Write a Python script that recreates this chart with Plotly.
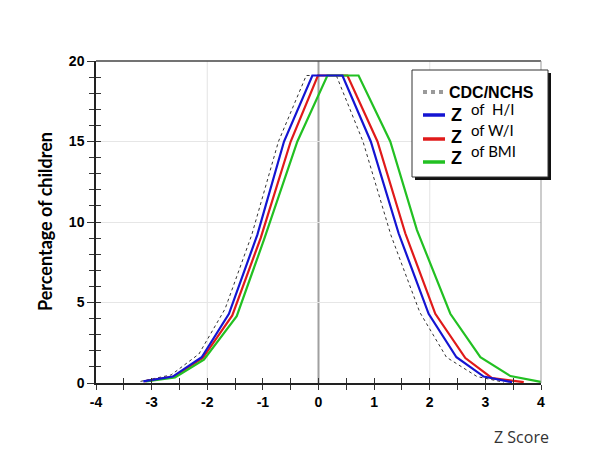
import plotly.graph_objects as go

# ---------------- data ----------------
cdc_x = [-3.2, -2.65, -2.15, -1.68, -1.2, -0.72, -0.22, 0.32, 0.8, 1.3, 1.82, 2.3, 2.85, 3.33]
cdc_y = [0.1, 0.5, 1.8, 4.6, 9.2, 15.0, 19.1, 19.1, 15.0, 9.2, 4.4, 1.6, 0.4, 0.05]

hi_x = [-3.15, -2.62, -2.1, -1.61, -1.1, -0.62, -0.11, 0.43, 0.94, 1.44, 1.98, 2.48, 2.97, 3.48]
hi_y = [0.1, 0.4, 1.6, 4.3, 9.2, 15.0, 19.1, 19.1, 15.0, 9.3, 4.3, 1.6, 0.4, 0.05]

wi_x = [-3.13, -2.6, -2.08, -1.55, -1.04, -0.5, -0.01, 0.52, 1.06, 1.56, 2.1, 2.64, 3.12, 3.69]
wi_y = [0.1, 0.4, 1.55, 4.2, 9.0, 15.0, 19.1, 19.1, 15.0, 9.3, 4.3, 1.55, 0.3, 0.05]

bmi_x = [-3.1, -2.58, -2.06, -1.47, -0.98, -0.38, 0.16, 0.72, 1.29, 1.77, 2.37, 2.91, 3.45, 4.02]
bmi_y = [0.1, 0.35, 1.45, 4.15, 8.9, 15.0, 19.1, 19.1, 15.0, 9.5, 4.3, 1.6, 0.43, 0.05]

x_ticks = [-4, -3, -2, -1, 0, 1, 2, 3, 4]
y_ticks = [0, 5, 10, 15, 20]

legend_labels = ["CDC/NCHS", "of  H/I", "of W/I", "of BMI"]

# ---------------- layout geometry (pixels) ----------------
W, H = 600, 450
L, R, T, B = 96, 541, 61, 383


def px(xp):
    return (xp - L) / (R - L)


def py(yp):
    return (B - yp) / (B - T)


BLUE = "#1414d2"
RED = "#e01a1a"
GREEN = "#22c022"

fig = go.Figure()
fig.add_trace(go.Scatter(x=cdc_x, y=cdc_y, mode="lines",
                         line=dict(color="#333333", width=1, dash="3px,3px"), showlegend=False))
fig.add_trace(go.Scatter(x=wi_x, y=wi_y, mode="lines",
                         line=dict(color=RED, width=2.2), showlegend=False))
fig.add_trace(go.Scatter(x=bmi_x, y=bmi_y, mode="lines",
                         line=dict(color=GREEN, width=2.2), showlegend=False))
fig.add_trace(go.Scatter(x=hi_x, y=hi_y, mode="lines",
                         line=dict(color=BLUE, width=2.2), showlegend=False))

# dummy trace for overlay axes (crossing ticks)
fig.add_trace(go.Scatter(x=[], y=[], xaxis="x2", yaxis="y2", showlegend=False))

tickfont = dict(family="Liberation Sans, Arial", size=14, color="black", weight="bold")

fig.update_layout(
    width=W, height=H,
    margin=dict(l=L, r=W - R, t=T, b=H - B),
    plot_bgcolor="white", paper_bgcolor="white",
    showlegend=False,
    xaxis=dict(range=[-4, 4], tickvals=x_ticks, ticktext=[str(v) for v in x_ticks],
               ticks="outside", ticklen=5, tickcolor="#333", tickwidth=1,
               minor=dict(dtick=0.5, ticks="outside", ticklen=5, tickcolor="#333", showgrid=False),
               showgrid=False, zeroline=False,
               showline=True, linecolor="#222", linewidth=1.5, mirror=False,
               tickfont=tickfont),
    yaxis=dict(range=[0, 20], tickvals=y_ticks, ticktext=[str(v) for v in y_ticks],
               ticks="outside", ticklen=7, tickcolor="#333", tickwidth=1,
               minor=dict(dtick=1, ticks="outside", ticklen=5, tickcolor="#333", showgrid=False),
               showgrid=True, gridcolor="#e6e6e6", gridwidth=1, zeroline=False,
               showline=True, linecolor="#222", linewidth=1.5,
               tickfont=tickfont),
    xaxis2=dict(range=[-4, 4], overlaying="x", anchor="y2", side="bottom",
                tickvals=x_ticks, ticks="inside", ticklen=5, tickcolor="#333",
                minor=dict(dtick=0.5, ticks="inside", ticklen=5, tickcolor="#333", showgrid=False),
                showticklabels=False, showgrid=False, zeroline=False, showline=False),
    yaxis2=dict(range=[0, 20], overlaying="y", anchor="x2", side="left",
                tickvals=y_ticks, ticks="inside", ticklen=5, tickcolor="#333",
                minor=dict(dtick=1, ticks="inside", ticklen=5, tickcolor="#333", showgrid=False),
                showticklabels=False, showgrid=False, zeroline=False, showline=False),
)

# vertical grid lines and zero line
for xv in [-2, 2]:
    fig.add_vline(x=xv, line=dict(color="#e3e3e3", width=1), layer="below")
fig.add_vline(x=0, line=dict(color="#a0a0a0", width=2), layer="below")

# top and right frame
fig.add_shape(type="line", xref="paper", yref="paper", x0=0, x1=1, y0=1, y1=1,
              line=dict(color="#444", width=1.5))
fig.add_shape(type="line", xref="paper", yref="paper", x0=1, x1=1, y0=0, y1=1,
              line=dict(color="#999", width=1))

# legend box with shadow
fig.add_shape(type="rect", xref="paper", yref="paper",
              x0=px(415), x1=px(551), y0=py(180), y1=py(73),
              fillcolor="#111", line=dict(width=0))
fig.add_shape(type="rect", xref="paper", yref="paper",
              x0=px(412), x1=px(548), y0=py(177), y1=py(70),
              fillcolor="white", line=dict(color="#333", width=1))

# legend samples
samples = [
    (92, "#9a9a9a", "dot", 4),
    (115, BLUE, "solid", 3.5),
    (139, RED, "solid", 3.5),
    (162, GREEN, "solid", 3.5),
]
for yy, col, dash, w in samples:
    fig.add_shape(type="line", xref="paper", yref="paper",
                  x0=px(423), x1=px(445), y0=py(yy), y1=py(yy),
                  line=dict(color=col, width=w, dash=dash))

fig.add_annotation(xref="paper", yref="paper", x=px(447), y=py(92), xanchor="left", yanchor="middle",
                   text="<b>" + legend_labels[0] + "</b>", showarrow=False,
                   font=dict(family="Liberation Sans, Arial", size=16, color="black"))
for (zy, oy), lab in zip([(115, 109), (137, 130), (158, 151)], legend_labels[1:]):
    fig.add_annotation(xref="paper", yref="paper", x=px(449), y=py(zy), xanchor="left", yanchor="middle",
                       text="<b>Z</b>", showarrow=False,
                       font=dict(family="Liberation Sans, Arial", size=18, color="black"))
    fig.add_annotation(xref="paper", yref="paper", x=px(469), y=py(oy), xanchor="left", yanchor="middle",
                       text=lab, showarrow=False,
                       font=dict(family="Lato, Open Sans", size=15, color="black"))

# axis titles
fig.add_annotation(xref="paper", yref="paper", x=px(45), y=0.5, xanchor="center", yanchor="middle",
                   text="<b>Percentage of children</b>", textangle=-90, showarrow=False,
                   font=dict(family="Lato, Open Sans", size=18, color="black"))
fig.add_annotation(xref="paper", yref="paper", x=px(551), y=py(437), xanchor="right", yanchor="middle",
                   text="Z Score", showarrow=False,
                   font=dict(family="Open Sans", size=16, color="#333"))

fig.write_html("out.html", config={"displayModeBar": False},
               post_script="document.body.style.margin='0';document.body.style.padding='0';")
